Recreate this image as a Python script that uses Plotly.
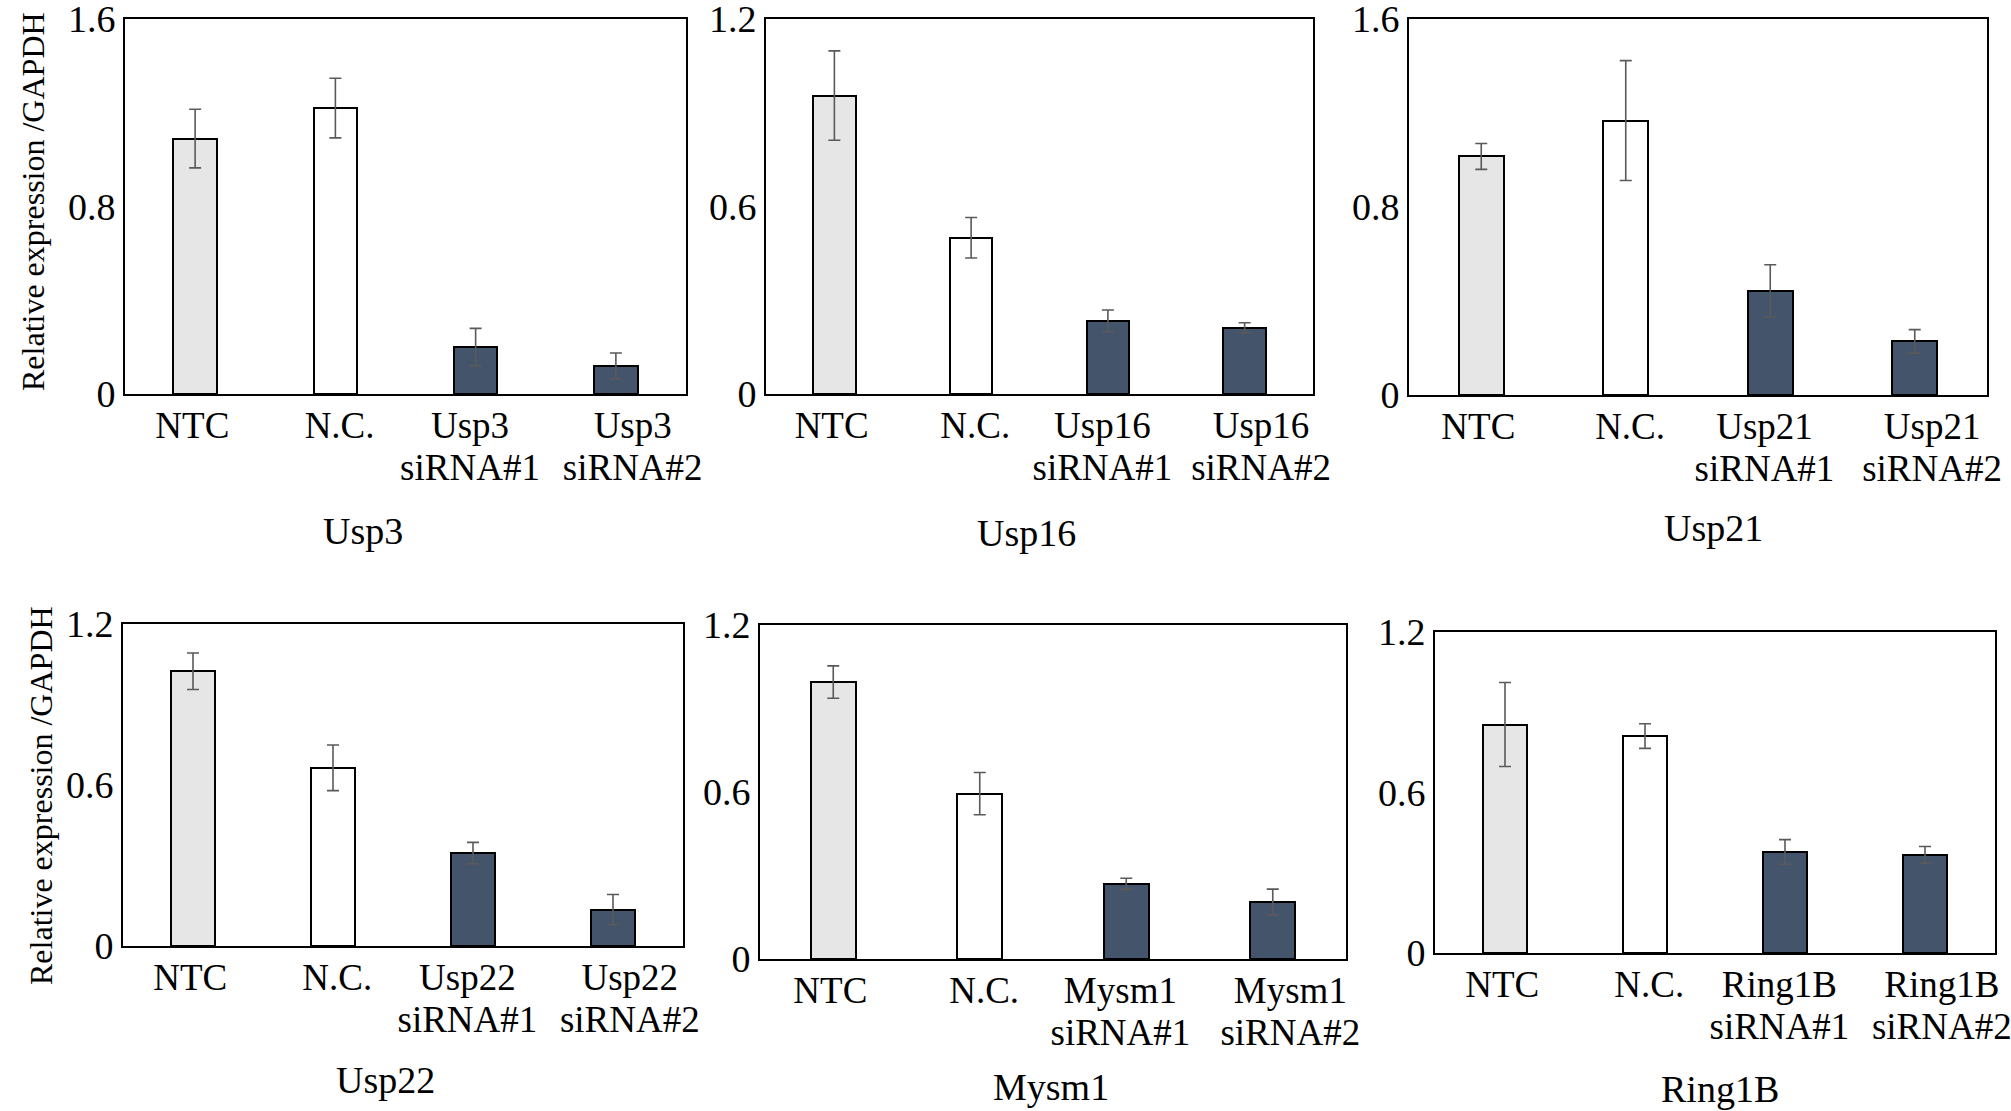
import plotly.graph_objects as go

# ---- data -------------------------------------------------------------
genes = ["Usp3", "Usp16", "Usp21", "Usp22", "Mysm1", "Ring1B"]
controls = ["NTC", "N.C."]

usp3_mean = [1.09, 1.22, 0.20, 0.12]
usp3_err = [0.125, 0.127, 0.080, 0.055]

usp16_mean = [0.955, 0.50, 0.234, 0.212]
usp16_err = [0.143, 0.065, 0.035, 0.016]

usp21_mean = [1.015, 1.168, 0.443, 0.228]
usp21_err = [0.055, 0.255, 0.111, 0.050]

usp22_mean = [1.024, 0.664, 0.346, 0.136]
usp22_err = [0.068, 0.085, 0.040, 0.056]

mysm1_mean = [0.995, 0.594, 0.270, 0.205]
mysm1_err = [0.058, 0.076, 0.020, 0.046]

ring1b_mean = [0.854, 0.811, 0.378, 0.367]
ring1b_err = [0.157, 0.046, 0.046, 0.031]

y_max = [1.6, 1.2, 1.6, 1.2, 1.2, 1.2]
y_ticks = [[0, 0.8, 1.6], [0, 0.6, 1.2], [0, 0.8, 1.6],
           [0, 0.6, 1.2], [0, 0.6, 1.2], [0, 0.6, 1.2]]
y_ticktext = [["0", "0.8", "1.6"], ["0", "0.6", "1.2"], ["0", "0.8", "1.6"],
              ["0", "0.6", "1.2"], ["0", "0.6", "1.2"], ["0", "0.6", "1.2"]]

means = [usp3_mean, usp16_mean, usp21_mean, usp22_mean, mysm1_mean, ring1b_mean]
errors = [usp3_err, usp16_err, usp21_err, usp22_err, mysm1_err, ring1b_err]

# ---- styling ----------------------------------------------------------
W, H = 2011, 1111
FONT = "Liberation Serif, Times New Roman, serif"
LABEL_PX = 37          # glyph size of the category labels
bar_colors = ["#e6e6e6", "#ffffff", "#44546a", "#44546a"]
# small horizontal nudges of the category labels (in slot units)
label_nudge = [-0.02, 0.03, -0.04, 0.12]

# plot-area boxes in pixels: (left, right, top, bottom)
boxes = [
    (125, 686, 19, 394),
    (766, 1313, 19, 394),
    (1409, 1987, 19, 395),
    (123, 683, 624, 946),
    (760, 1346, 625, 959),
    (1435, 1995, 632, 953),
]
# panel caption centres in pixels
captions = [(363, 531), (1026, 533), (1713, 528),
            (385, 1080), (1051, 1087), (1720, 1089)]
# y-axis title centres in pixels (one per row)
ytitle_pos = [(33, 202), (41, 796)]


def px_x(v):
    return v / W


def px_y(v):
    return 1 - v / H


def big(text):
    # larger glyphs while keeping the tighter line pitch of the base font
    return "<br>".join(f'<span style="font-size:{LABEL_PX}px">{part}</span>'
                       for part in text.split("<br>"))


fig = go.Figure()

for i, gene in enumerate(genes):
    cats = controls + [f"{gene}<br>siRNA#1", f"{gene}<br>siRNA#2"]
    slots = list(range(len(cats)))
    ax = "" if i == 0 else str(i + 1)
    fig.add_trace(go.Bar(
        x=slots,
        y=means[i],
        width=0.31,
        customdata=cats,
        hovertemplate="%{customdata}: %{y}<extra></extra>",
        marker=dict(color=bar_colors, line=dict(color="black", width=2)),
        error_y=dict(type="data", array=errors[i], visible=True,
                     color="#5a5a5a", thickness=1.6, width=6),
        xaxis="x" + ax,
        yaxis="y" + ax,
        showlegend=False,
    ))

    l, r, t, b = boxes[i]
    fig.layout["xaxis" + ax] = dict(
        domain=[px_x(l), px_x(r)],
        anchor="y" + ax,
        range=[-0.5, len(cats) - 0.5],
        tickmode="array",
        tickvals=[s + d for s, d in zip(slots, label_nudge)],
        ticktext=[big(c) for c in cats],
        tickangle=0,
        automargin=False,
        ticklabeloverflow="allow",
        showline=True, mirror=True, linecolor="black", linewidth=2,
        showgrid=False, zeroline=False, ticks="",
        tickfont=dict(family=FONT, size=32, color="black"),
        ticklabelstandoff=4,
        fixedrange=True,
    )
    fig.layout["yaxis" + ax] = dict(
        domain=[px_y(b), px_y(t)],
        anchor="x" + ax,
        range=[0, y_max[i]],
        tickvals=y_ticks[i],
        ticktext=y_ticktext[i],
        automargin=False,
        ticklabeloverflow="allow",
        showline=True, mirror=True, linecolor="black", linewidth=1.6,
        showgrid=False, zeroline=False, ticks="",
        tickfont=dict(family=FONT, size=38, color="black"),
        ticklabelstandoff=0,
        fixedrange=True,
    )

    cx, cy = captions[i]
    fig.add_annotation(x=px_x(cx), y=px_y(cy), xref="paper", yref="paper",
                       text=gene, showarrow=False, xanchor="center",
                       yanchor="middle",
                       font=dict(family=FONT, size=38, color="black"))

for tx, ty in ytitle_pos:
    fig.add_annotation(x=px_x(tx), y=px_y(ty), xref="paper", yref="paper",
                       text="Relative expression /GAPDH", showarrow=False,
                       textangle=-90, xanchor="center", yanchor="middle",
                       font=dict(family=FONT, size=32, color="black"))

fig.update_layout(
    width=W, height=H,
    margin=dict(l=0, r=0, t=0, b=0, autoexpand=False),
    paper_bgcolor="white",
    plot_bgcolor="white",
    bargap=0,
)

fig.write_html("out.html")
